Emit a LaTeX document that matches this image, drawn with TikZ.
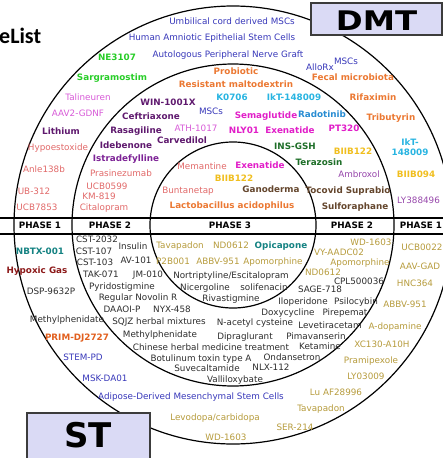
\documentclass[tikz,border=0pt]{standalone}
\usepackage{fontspec}
\usepackage{graphicx}
\setmainfont{DejaVu Sans}
\newfontfamily\titlefont{Carlito}

\definecolor{cblue}{RGB}{55,55,185}
\definecolor{cgreen}{RGB}{40,205,40}
\definecolor{cdkgreen}{RGB}{30,110,40}
\definecolor{corchid}{RGB}{215,90,215}
\definecolor{cmagenta}{RGB}{225,30,200}
\definecolor{cplum}{RGB}{95,25,110}
\definecolor{cviolet}{RGB}{125,35,150}
\definecolor{cpurple}{RGB}{150,70,170}
\definecolor{csalmon}{RGB}{225,105,105}
\definecolor{corange}{RGB}{235,120,50}
\definecolor{credor}{RGB}{225,95,30}
\definecolor{ccyan}{RGB}{40,180,225}
\definecolor{cradot}{RGB}{40,140,210}
\definecolor{cyellow}{RGB}{240,190,30}
\definecolor{cbrown}{RGB}{100,70,45}
\definecolor{cteal}{RGB}{20,130,130}
\definecolor{cmaroon}{RGB}{140,25,25}
\definecolor{colive}{RGB}{182,155,60}
\definecolor{cdark}{RGB}{45,45,45}
\definecolor{boxfill}{RGB}{218,218,245}
\definecolor{boxedge}{RGB}{60,60,60}

\tikzset{
  ring/.style={line width=1.2pt},
  band/.style={line width=1.4pt},
  drug/.style={font=\fontsize{8.8}{10}\selectfont, inner sep=0pt, text height=6.4pt, text depth=1.8pt},
  bdrug/.style={drug, font=\fontsize{8.8}{10}\selectfont\bfseries},
  tagbox/.style={draw=boxedge, fill=boxfill, line width=1.3pt}
}

\begin{document}
\begin{tikzpicture}[x=1pt, y=-1pt]
  \useasboundingbox (0,0) rectangle (443,458);
  \coordinate (hub) at (233,225);
  \draw[ring] (hub) circle [radius=219pt];
  \draw[ring] (hub) circle [radius=161pt];
  \draw[ring] (hub) circle [radius=83pt];
  \draw[band] (0,218) -- (443,218);
  \draw[band] (0,234) -- (443,234);

  \draw[tagbox] (311,3) rectangle (442,35);
  \draw[tagbox] (27,413) rectangle (150,470);
  \node[inner sep=0pt, font=\fontsize{27}{27}\selectfont\bfseries] (dmt) at (376.5,20.5) {\scalebox{1.2}[1]{DMT}};
  \node[inner sep=0pt, font=\fontsize{34}{34}\selectfont\bfseries] (st) at (88,435.5) {ST};
  \node[anchor=base west, inner sep=0pt, font=\titlefont\fontsize{22}{24}\selectfont\bfseries] (title) at (-1,43) {eList};

  \foreach \x/\y/\t [count=\i] in {40/226/PHASE 1, 110/226/PHASE 2, 230/226/PHASE 3, 352/226/PHASE 2, 421/226/PHASE 1}
    \node[bdrug] (phase\i) at (\x,\y) {\t};

  \foreach \x/\y/\t [count=\i] in {232/22/Umbilical cord derived MSCs, 212/38/Human Amniotic Epithelial Stem Cells,
      228/55/Autologous Peripheral Nerve Graft, 320/68/AlloRx, 346/62/MSCs, 211/112/MSCs,
      83/358/STEM-PD, 105/379/MSK-DA01, 191/397/Adipose-Derived Mesenchymal Stem Cells}
    \node[drug, text=cblue] (blue\i) at (\x,\y) {\t};
  \foreach \x/\y/\t [count=\i] in {117/58/NE3107, 112/78/Sargramostim}
    \node[bdrug, text=cgreen] (green\i) at (\x,\y) {\t};
  \foreach \x/\y/\t [count=\i] in {88/98/Talineuren, 78/114/AAV2-GDNF, 196/129/ATH-1017}
    \node[drug, text=corchid] (orchid\i) at (\x,\y) {\t};
  \foreach \x/\y/\t [count=\i] in {61/132/Lithium, 168/103/WIN-1001X, 151/117/Ceftriaxone,
      136/131/Rasagiline, 126/146/Idebenone, 182/141/Carvedilol}
    \node[bdrug, text=cplum] (plum\i) at (\x,\y) {\t};
  \node[bdrug, text=cviolet] (violet1) at (126,159) {Istradefylline};
  \foreach \x/\y/\t [count=\i] in {58/148/Hypoestoxide, 44/170/Anle138b, 34/192/UB-312, 37/208/UCB7853,
      121/174/Prasinezumab, 107/187/UCB0599, 99/197/KM-819, 104/208/Citalopram,
      202/167/Memantine, 188/191/Buntanetap}
    \node[drug, text=csalmon] (salmon\i) at (\x,\y) {\t};
  \foreach \x/\y/\t [count=\i] in {236/72/Probiotic, 236/85/Resistant maltodextrin, 353/78/Fecal microbiota,
      373/98/Rifaximin, 391/118/Tributyrin, 232/206/Lactobacillus acidophilus}
    \node[bdrug, text=corange] (orange\i) at (\x,\y) {\t};
  \foreach \x/\y/\t [count=\i] in {232/98/K0706, 294/98/IkT-148009}
    \node[bdrug, text=ccyan] (cyan\i) at (\x,\y) {\t};
  \node[bdrug, text=ccyan, align=center, text height=, text depth=, font=\fontsize{8.8}{10.5}\selectfont\bfseries] (cyan3) at (410,147) {IkT-\\148009};
  \node[bdrug, text=cradot] (radot1) at (322,115) {Radotinib};
  \foreach \x/\y/\t [count=\i] in {266/116/Semaglutide, 244/131/NLY01, 290/131/Exenatide, 344/129/PT320, 260/166/Exenatide}
    \node[bdrug, text=cmagenta] (magenta\i) at (\x,\y) {\t};
  \foreach \x/\y/\t [count=\i] in {295/147/INS-GSH, 319/163/Terazosin}
    \node[bdrug, text=cdkgreen] (dkgreen\i) at (\x,\y) {\t};
  \foreach \x/\y/\t [count=\i] in {353/152/BIIB122, 416/175/BIIB094, 234/179/BIIB122}
    \node[bdrug, text=cyellow] (yellow\i) at (\x,\y) {\t};
  \node[drug, text=cpurple] (purple1) at (359,175) {Ambroxol};
  \node[drug, text=cpurple, anchor=west] (purple2) at (397,201) {LY388496};
  \foreach \x/\y/\t [count=\i] in {348/191/Tocovid Suprabio, 355/207/Sulforaphane, 271/190/Ganoderma}
    \node[bdrug, text=cbrown] (brown\i) at (\x,\y) {\t};
  \foreach \x/\y/\t [count=\i] in {40/252/NBTX-001, 281/246/Opicapone}
    \node[bdrug, text=cteal] (teal\i) at (\x,\y) {\t};
  \node[bdrug, text=cmaroon] (maroon1) at (37,271) {Hypoxic Gas};
  \node[bdrug, text=credor] (redor1) at (77,338) {PRIM-DJ2727};

  \foreach \x/\y/\t [count=\i] in {180/246/Tavapadon, 231/246/ND0612, 173/262/P2B001, 218/262/ABBV-951,
      273/262/Apomorphine, 371/243/WD-1603, 339/253/VY-AADC02, 360/263/Apomorphine, 323/273/ND0612,
      422/248/UCB0022, 420/267/AAV-GAD, 415/284/HNC364, 405/305/ABBV-951, 395/327/A-dopamine,
      382/345/XC130-A10H, 371/361/Pramipexole, 366/377/LY03009, 336/393/Lu AF28996,
      321/409/Tavapadon, 295/428/SER-214, 226/438/WD-1603}
    \node[drug, text=colive] (olive\i) at (\x,\y) {\t};
  \node[drug, text=colive] (olive22) at (215,418) {Levodopa/carbidopa};

  \foreach \x/\y/\t [count=\i] in {97/240/CST-2032, 94/252/CST-107, 133/247/Insulin, 95/263/CST-103,
      136/261/AV-101, 101/275/TAK-071, 148/275/JM-010, 122/287/Pyridostigmine, 138/298/Regular Novolin R,
      122/310/DAAOI-P, 172/310/NYX-458, 159/322/SQJZ herbal mixtures, 160/335/Methylphenidate,
      211/348/Chinese herbal medicine treatment, 201/359/Botulinum toxin type A, 207/369/Suvecaltamide,
      271/368/NLX-112, 235/380/Valliloxybate, 205/288/Nicergoline, 264/288/solifenacin,
      231/299/Rivastigmine, 359/282/CPL500036, 320/290/SAGE-718, 303/302/Iloperidone, 356/302/Psilocybin,
      288/313/Doxycycline, 345/313/Pirepemat, 255/323/N-acetyl cysteine, 330/326/Levetiracetam,
      245/337/Dipraglurant, 316/337/Pimavanserin, 320/347/Ketamine, 292/358/Ondansetron,
      51/292/DSP-9632P, 67/320/Methylphenidate}
    \node[drug, text=cdark] (dark\i) at (\x,\y) {\t};
  \node[drug, text=cdark] (dark36) at (231,276) {Nortriptyline/Escitalopram};
\end{tikzpicture}
\end{document}
